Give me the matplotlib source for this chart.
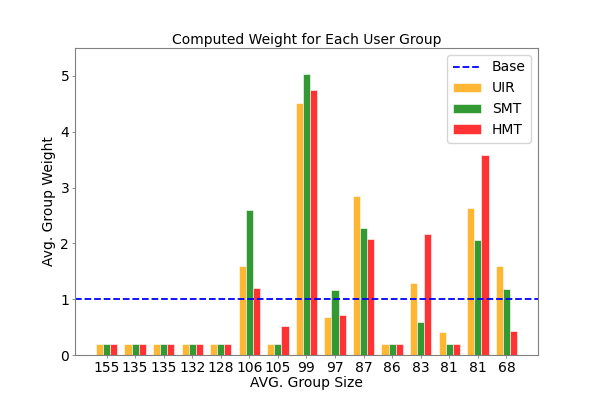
import matplotlib
matplotlib.use("Agg")
import matplotlib.pyplot as plt
import numpy as np

group_sizes = ["155", "135", "135", "132", "128", "106", "105", "99", "97", "87", "86", "83", "81", "81", "68"]
uir = [0.2, 0.2, 0.2, 0.2, 0.2, 1.59, 0.2, 4.52, 0.69, 2.85, 0.2, 1.29, 0.42, 2.64, 1.60]
smt = [0.2, 0.2, 0.2, 0.2, 0.2, 2.59, 0.2, 5.04, 1.17, 2.27, 0.2, 0.60, 0.2, 2.06, 1.18]
hmt = [0.2, 0.2, 0.2, 0.2, 0.2, 1.21, 0.52, 4.75, 0.71, 2.07, 0.2, 2.16, 0.2, 3.58, 0.43]
base_value = 1.0

fig, ax = plt.subplots(figsize=(5.98, 3.99), dpi=100)
x = np.arange(len(group_sizes))
w = 0.25
ax.axhline(base_value, color="blue", linestyle="--", linewidth=1.3, label="Base")
ax.bar(x - w, uir, w, color="orange", alpha=0.8, edgecolor="white", linewidth=0.5, label="UIR")
ax.bar(x, smt, w, color="green", alpha=0.8, edgecolor="white", linewidth=0.5, label="SMT")
ax.bar(x + w, hmt, w, color="red", alpha=0.8, edgecolor="white", linewidth=0.5, label="HMT")

ax.set_xticks(x)
ax.set_xticklabels(group_sizes)
ax.set_ylim(0, 5.5)
ax.tick_params(labelsize=10, length=2, width=0.6, pad=2, labelcolor="black", color="#808080")
ax.set_xlabel("AVG. Group Size", fontsize=10, labelpad=1)
ax.set_ylabel("Avg. Group Weight", fontsize=10, labelpad=3)
ax.set_title("Computed Weight for Each User Group", fontsize=10, pad=3)
for s in ax.spines.values():
    s.set_color("#808080")
ax.legend(loc="upper right", fontsize=10)
fig.savefig("out.png", dpi=100)
